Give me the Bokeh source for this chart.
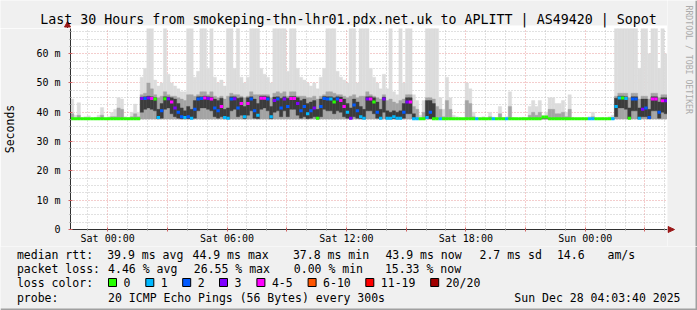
from bokeh.plotting import figure
from bokeh.models import ColumnDataSource, FixedTicker, Range1d
from bokeh.layouts import column, row
from bokeh.core.properties import value
from bokeh.embed import file_html
from bokeh.resources import INLINE

TITLE = "Last 30 Hours from smokeping-thn-lhr01.pdx.net.uk to APLITT | AS49420 | Sopot"

# time axis in hours since Fri 2025-12-26 00:00
start_hour = 22 + 8 / 60
bin_hours = 10 / 60
n_bins = 180

x_tick_hours = [24, 27, 30, 33, 36, 39, 42, 45, 48, 51]
x_tick_labels = ["Sat 00:00", "", "Sat 06:00", "", "Sat 12:00", "", "Sat 18:00", "", "Sun 00:00", ""]
x_minor_hours = [23, 25, 26, 28, 29, 31, 32, 34, 35, 37, 38, 40, 41, 43, 44, 46, 47, 49, 50, 52]
y_tick_ms = [0, 10, 20, 30, 40, 50, 60]
y_tick_labels = ["0", "10 m", "20 m", "30 m", "40 m", "50 m", "60 m"]
y_minor_ms = [2.5, 5, 7.5, 12.5, 15, 17.5, 22.5, 25, 27.5, 32.5, 35, 37.5, 42.5, 45, 47.5,
              52.5, 55, 57.5, 62.5, 65, 67.5]
y_top_ms = 68.6

loss_labels = ["0", "1", "2", "3", "4-5", "6-10", "11-19", "20/20"]
loss_colors = ["#26ff00", "#00b8ff", "#0059ff", "#7e00ff", "#ff00ff", "#ff5500", "#ff0000", "#a10000"]
loss_upper = [0, 1, 2, 3, 5, 10, 19, 20]

ping_floor = 37.7

median_ms = [
    37.8, 37.8, 37.8, 37.8, 37.8, 37.8, 37.8, 37.8, 37.8, 37.8,
    37.8, 37.8, 37.8, 37.8, 37.8, 37.8, 37.8, 37.8, 37.8, 37.8,
    37.8, 44.7, 44.7, 44.9, 44.7, 44.5, 38.2, 40.5, 44.6, 44.6,
    43.5, 41.5, 40.0, 38.5, 38.2, 38.5, 38.0, 41.0, 44.5, 44.7,
    44.9, 44.7, 44.5, 41.5, 40.5, 42.0, 38.2, 38.0, 44.5, 44.6,
    41.5, 43.0, 38.5, 43.0, 44.5, 40.5, 39.0, 44.8, 44.8, 44.5,
    38.5, 44.0, 44.5, 41.5, 44.5, 42.0, 44.7, 44.7, 43.0, 40.5,
    42.0, 39.5, 40.5, 41.5, 38.0, 42.0, 44.7, 44.5, 44.5, 43.5,
    44.5, 44.0, 42.0, 40.0, 38.0, 42.5, 40.5, 38.5, 38.0, 44.5,
    44.5, 43.5, 40.0, 38.0, 44.5, 38.0, 38.0, 38.5, 38.0, 38.0,
    40.0, 43.5, 43.5, 37.8, 37.8, 37.8, 37.8, 38.2, 40.0, 37.8,
    37.8, 37.8, 37.8, 37.8, 37.8, 37.8, 37.8, 37.8, 37.8, 37.8,
    37.8, 37.8, 37.8, 37.8, 37.8, 37.8, 37.8, 37.8, 37.8, 37.8,
    37.8, 37.8, 37.8, 37.8, 37.8, 37.8, 37.8, 37.8, 37.8, 37.8,
    37.8, 37.8, 38.4, 38.4, 37.8, 37.8, 37.8, 37.8, 37.8, 37.8,
    37.8, 37.8, 37.8, 37.8, 37.8, 37.8, 37.8, 37.8, 37.8, 37.8,
    37.8, 37.8, 37.8, 37.8, 42.0, 44.9, 44.9, 44.7, 38.0, 44.5,
    44.5, 38.0, 41.0, 41.5, 38.2, 44.5, 44.5, 40.0, 43.9, 43.9,
]

lost_pings = [
    0, 0, 0, 0, 0, 0, 0, 0, 0, 0,
    0, 0, 0, 0, 0, 0, 0, 0, 0, 0,
    0, 3, 2, 3, 4, 0, 1, 2, 0, 3,
    4, 3, 2, 2, 1, 2, 1, 2, 2, 2,
    4, 3, 4, 2, 2, 4, 1, 1, 2, 3,
    2, 4, 1, 4, 2, 2, 1, 4, 4, 2,
    1, 3, 2, 2, 3, 2, 4, 4, 3, 2,
    2, 1, 2, 3, 0, 2, 2, 2, 1, 0,
    2, 4, 4, 1, 3, 2, 2, 1, 1, 3,
    4, 0, 2, 1, 3, 1, 1, 1, 1, 1,
    2, 3, 4, 1, 1, 0, 0, 1, 2, 0,
    0, 1, 0, 0, 0, 0, 0, 0, 0, 0,
    0, 0, 1, 0, 0, 0, 0, 1, 0, 0,
    0, 1, 0, 0, 0, 0, 0, 0, 0, 0,
    0, 0, 0, 0, 0, 0, 0, 0, 0, 0,
    0, 0, 0, 0, 0, 0, 1, 1, 0, 0,
    0, 0, 0, 1, 1, 1, 0, 1, 0, 2,
    2, 1, 3, 2, 2, 4, 4, 2, 4, 3,
]

smoke_dark_lo = [
    37.8, 37.8, 37.8, 37.8, 37.8, 37.8, 37.8, 37.8, 37.8, 37.8,
    37.8, 37.8, 37.8, 37.8, 37.8, 37.8, 37.8, 37.8, 37.8, 37.8,
    37.8, 40.0, 41.0, 41.5, 41.0, 40.5, 37.8, 38.0, 41.0, 41.5,
    39.5, 38.5, 38.0, 37.8, 37.8, 37.8, 37.8, 38.0, 40.5, 41.5,
    41.5, 41.0, 40.5, 38.5, 38.0, 38.5, 37.8, 37.8, 40.5, 41.0,
    38.5, 39.0, 37.8, 39.0, 40.5, 38.0, 37.8, 41.0, 41.5, 40.5,
    37.8, 40.0, 40.5, 38.5, 40.5, 38.5, 41.0, 41.0, 39.0, 38.0,
    38.5, 37.8, 38.0, 38.5, 37.8, 38.5, 41.0, 40.5, 40.5, 39.5,
    40.5, 40.0, 38.5, 38.0, 37.8, 38.5, 38.0, 37.8, 37.8, 40.5,
    40.5, 39.5, 38.0, 37.8, 40.0, 37.8, 37.8, 37.8, 37.8, 37.8,
    38.0, 39.5, 39.5, 37.8, 37.8, 37.8, 37.8, 37.8, 37.8, 37.8,
    37.8, 37.8, 37.8, 37.8, 37.8, 37.8, 37.8, 37.8, 37.8, 37.8,
    37.8, 37.8, 37.8, 37.8, 37.8, 37.8, 37.8, 37.8, 37.8, 37.8,
    37.8, 37.8, 37.8, 37.8, 37.8, 37.8, 37.8, 37.8, 37.8, 37.8,
    37.8, 37.8, 37.8, 37.8, 37.8, 37.8, 37.8, 37.8, 37.8, 37.8,
    37.8, 37.8, 37.8, 37.8, 37.8, 37.8, 37.8, 37.8, 37.8, 37.8,
    37.8, 37.8, 37.8, 37.8, 38.5, 41.5, 41.5, 41.0, 37.8, 40.5,
    40.5, 37.8, 38.5, 38.5, 37.8, 40.5, 40.5, 38.0, 40.0, 39.5,
]

smoke_dark_hi = [
    37.8, 37.8, 37.8, 37.8, 37.8, 37.8, 37.8, 37.8, 37.8, 37.8,
    37.8, 37.8, 37.8, 37.8, 37.8, 37.8, 37.8, 37.8, 37.8, 37.8,
    37.8, 45.2, 45.3, 45.5, 45.3, 45.0, 41.0, 43.0, 45.3, 45.2,
    45.0, 44.5, 43.0, 41.5, 40.5, 42.0, 41.0, 44.0, 45.3, 45.3,
    45.5, 45.3, 45.2, 44.5, 44.0, 44.8, 41.0, 41.5, 45.3, 45.3,
    44.8, 45.0, 42.0, 45.0, 45.3, 44.5, 43.0, 45.5, 45.5, 45.3,
    42.0, 45.2, 45.3, 44.8, 45.3, 44.8, 45.4, 45.4, 45.0, 44.0,
    44.5, 43.0, 43.5, 44.0, 41.0, 44.5, 45.4, 45.3, 45.3, 45.0,
    45.3, 45.2, 44.5, 43.0, 41.5, 44.5, 43.5, 42.0, 41.0, 45.3,
    45.3, 45.0, 43.5, 41.0, 45.2, 40.5, 40.0, 40.5, 40.0, 40.5,
    43.0, 45.0, 45.0, 39.5, 37.8, 37.8, 37.8, 44.0, 44.0, 43.0,
    37.8, 37.8, 37.8, 37.8, 37.8, 37.8, 37.8, 37.8, 37.8, 37.8,
    37.8, 37.8, 37.8, 37.8, 37.8, 37.8, 37.8, 37.8, 37.8, 37.8,
    37.8, 37.8, 37.8, 37.8, 37.8, 37.8, 37.8, 37.8, 37.8, 37.8,
    37.8, 37.8, 37.8, 37.8, 37.8, 37.8, 37.8, 37.8, 37.8, 37.8,
    37.8, 37.8, 37.8, 37.8, 37.8, 37.8, 37.8, 37.8, 37.8, 37.8,
    37.8, 37.8, 37.8, 37.8, 44.8, 45.5, 45.5, 45.3, 41.5, 45.3,
    45.3, 41.5, 44.5, 44.5, 41.0, 45.3, 45.3, 43.5, 45.0, 45.0,
]

smoke_mid_hi = [
    39.5, 38.0, 39.0, 37.9, 38.0, 38.0, 37.9, 38.0, 38.2, 39.0,
    37.9, 38.0, 38.5, 38.5, 41.5, 41.0, 38.0, 37.9, 38.5, 39.5,
    38.5, 46.0, 46.5, 50.0, 48.0, 46.0, 45.0, 45.5, 47.0, 46.0,
    45.5, 45.5, 45.0, 44.5, 44.0, 46.0, 46.0, 45.5, 46.0, 47.0,
    47.0, 46.0, 47.0, 45.5, 45.0, 45.5, 44.5, 45.5, 46.5, 46.0,
    46.0, 45.5, 45.0, 45.5, 47.0, 46.0, 46.0, 46.0, 46.0, 46.0,
    45.0, 46.5, 47.0, 46.5, 47.0, 45.5, 47.0, 47.0, 45.5, 45.5,
    45.5, 45.0, 45.0, 45.5, 44.5, 45.5, 46.0, 47.0, 47.0, 46.5,
    46.0, 46.0, 45.5, 45.0, 45.5, 46.0, 45.0, 45.5, 45.5, 47.0,
    46.0, 45.5, 45.0, 44.5, 46.0, 44.0, 44.5, 43.5, 43.0, 44.0,
    44.5, 46.0, 46.0, 42.0, 41.0, 38.0, 40.0, 45.0, 45.0, 44.5,
    42.0, 41.0, 38.5, 44.0, 41.0, 38.0, 37.9, 37.9, 37.9, 44.0,
    43.0, 38.5, 38.0, 37.9, 38.0, 37.9, 38.5, 38.0, 37.9, 39.5,
    37.9, 38.0, 42.0, 37.9, 37.9, 37.9, 38.0, 37.9, 39.0, 40.0,
    39.0, 40.0, 38.5, 38.5, 41.0, 41.0, 39.5, 39.5, 40.0, 38.5,
    41.0, 38.0, 37.9, 37.9, 38.0, 37.9, 38.0, 38.5, 37.9, 37.9,
    38.0, 37.9, 38.0, 38.2, 45.5, 46.5, 46.5, 46.5, 45.0, 46.5,
    46.5, 44.5, 45.5, 45.5, 44.5, 46.5, 46.5, 45.0, 46.0, 46.0,
]

smoke_max = [
    44.5, 39.0, 43.3, 38.2, 38.5, 38.8, 38.0, 38.3, 39.0, 41.6,
    38.0, 38.5, 39.9, 41.0, 45.0, 44.5, 38.5, 38.2, 40.0, 42.8,
    40.0, 52.0, 55.0, 70.0, 70.0, 51.0, 49.0, 50.0, 70.0, 53.0,
    50.0, 49.0, 48.0, 47.0, 47.0, 70.0, 70.0, 52.0, 54.0, 70.0,
    70.0, 55.0, 70.0, 52.0, 50.0, 51.0, 49.0, 70.0, 70.0, 55.0,
    70.0, 52.0, 50.0, 52.0, 70.0, 70.0, 70.0, 55.0, 53.0, 52.0,
    50.0, 70.0, 70.0, 70.0, 70.0, 54.0, 70.0, 70.0, 55.0, 52.0,
    51.0, 50.0, 49.0, 50.0, 48.0, 52.0, 55.0, 70.0, 70.0, 70.0,
    54.0, 52.0, 51.0, 50.0, 70.0, 70.0, 50.0, 70.0, 70.0, 70.0,
    55.0, 52.0, 50.0, 48.0, 53.0, 48.0, 70.0, 47.0, 46.0, 70.0,
    50.0, 70.0, 70.0, 46.0, 44.0, 39.0, 44.0, 70.0, 70.0, 70.0,
    70.0, 45.0, 41.0, 52.0, 45.0, 39.0, 38.5, 38.2, 38.0, 50.0,
    48.0, 40.0, 38.3, 38.0, 38.5, 38.0, 40.0, 38.3, 38.0, 42.0,
    38.2, 38.5, 47.0, 38.2, 38.0, 38.0, 38.3, 38.0, 42.0, 44.0,
    42.0, 44.0, 38.8, 40.0, 45.0, 45.0, 43.0, 43.0, 44.0, 40.0,
    46.0, 38.3, 38.0, 38.0, 38.2, 38.0, 38.5, 40.0, 38.0, 38.0,
    38.2, 38.0, 38.5, 39.0, 70.0, 70.0, 70.0, 70.0, 70.0, 70.0,
    70.0, 55.0, 70.0, 70.0, 60.0, 70.0, 70.0, 55.0, 70.0, 60.0,
]

legend_rtt = [(16.4, "median rtt:"), (106.7, "39.9 ms avg"), (192.0, "44.9 ms max"),
              (292.4, "37.8 ms min"), (384.9, "43.9 ms now"), (479.0, "2.7 ms sd"),
              (556.4, "14.6"), (607.0, "am/s")]
legend_loss = [(16.4, "packet loss:"), (107.6, "4.46 % avg"), (193.3, "26.55 % max"),
               (293.3, "0.00 % min"), (384.4, "15.33 % now")]
legend_box_x = [108.0, 145.3, 182.2, 219.0, 256.4, 307.6, 365.3, 430.2]
probe_text = "20 ICMP Echo Pings (56 Bytes) every 300s"
stamp_text = "Sun Dec 28 04:03:40 2025"
watermark = "RRDTOOL / TOBI OETIKER"

FONT = "DejaVu Sans Mono"
BG = "#f0f0f0"
ARROW = "#9a1818"
AXIS = "#303030"


def loss_color(n):
    for upper, c in zip(loss_upper, loss_colors):
        if n <= upper:
            return c
    return loss_colors[-1]


def canvas_fig(w, h):
    # helper figure whose frame is its whole area, y measured downward in px
    return figure(width=w, height=h, x_range=Range1d(0, w), y_range=Range1d(h, 0),
                  title=None, output_backend="svg", toolbar_location=None,
                  x_axis_type=None, y_axis_type=None, min_border=0,
                  background_fill_color=BG, border_fill_color=BG, outline_line_color=None)


# ---------------- main chart ----------------
left = [start_hour + i * bin_hours for i in range(n_bins)]
right = [start_hour + (i + 1) * bin_hours for i in range(n_bins)]
src = ColumnDataSource(dict(
    left=left, right=right, floor=[ping_floor] * n_bins,
    median=median_ms, color=[loss_color(n) for n in lost_pings],
    dlo=smoke_dark_lo, dhi=smoke_dark_hi, mhi=smoke_mid_hi, pmax=smoke_max,
))

p = figure(width=667, height=218, title=None, output_backend="svg", toolbar_location=None,
           x_range=Range1d(start_hour, start_hour + n_bins * bin_hours),
           y_range=Range1d(0, y_top_ms),
           min_border_left=67, min_border_right=0, min_border_top=0, min_border_bottom=17,
           background_fill_color="#ffffff", border_fill_color=BG,
           outline_line_color=None)

p.xaxis.ticker = FixedTicker(ticks=x_tick_hours, minor_ticks=x_minor_hours)
p.yaxis.ticker = FixedTicker(ticks=y_tick_ms, minor_ticks=y_minor_ms)
for g in (p.xgrid[0], p.ygrid[0]):
    g.grid_line_color = "#e07878"
    g.grid_line_alpha = 0.75
    g.grid_line_dash = "1 2"
    g.minor_grid_line_color = "#b4b4b4"
    g.minor_grid_line_alpha = 0.8
    g.minor_grid_line_dash = "1 2"
p.ygrid[0].ticker = p.yaxis[0].ticker
p.xgrid[0].ticker = p.xaxis[0].ticker

p.quad(left="left", right="right", bottom="floor", top="pmax", source=src,
       fill_color="#dcdcdc", line_color="#dcdcdc", line_width=0.4)
p.quad(left="left", right="right", bottom="floor", top="mhi", source=src,
       fill_color="#a4a4a4", line_color="#a4a4a4", line_width=0.4)
p.quad(left="left", right="right", bottom="dlo", top="dhi", source=src,
       fill_color="#3c3c3c", line_color="#3c3c3c", line_width=0.4)
p.segment(x0="left", x1="right", y0="median", y1="median", source=src,
          line_color="color", line_width=3, line_cap="butt")

for ax in (p.xaxis[0], p.yaxis[0]):
    ax.axis_line_color = AXIS
    ax.major_tick_line_color = "#d06060"
    ax.major_tick_in = 2
    ax.major_tick_out = 2
    ax.minor_tick_line_color = "#909090"
    ax.minor_tick_in = 1
    ax.minor_tick_out = 1
    ax.major_label_text_font = FONT
    ax.major_label_text_font_size = "10px"
    ax.major_label_text_color = "#000000"

p.xaxis[0].major_label_overrides = {float(t): s for t, s in zip(x_tick_hours, x_tick_labels)}
p.yaxis[0].major_label_overrides = {float(t): s for t, s in zip(y_tick_ms, y_tick_labels)}
p.xaxis[0].major_label_standoff = 1
p.yaxis[0].major_label_standoff = 8
p.yaxis[0].axis_label = "Seconds"
p.yaxis[0].axis_label_text_font = FONT
p.yaxis[0].axis_label_text_font_size = "11.5px"
p.yaxis[0].axis_label_text_font_style = "normal"
p.yaxis[0].axis_label_text_color = "#000000"
p.yaxis[0].axis_label_standoff = 16

# ---------------- title strip (canvas y 0..28) ----------------
top = canvas_fig(667, 28)
top.quad(left=[67], right=[667], top=[25], bottom=[28], fill_color="#ffffff", line_color=None)
top.segment(x0=[67], y0=[24], x1=[67], y1=[28], line_color=AXIS, line_width=1)
top.patch(x=[64, 70, 67], y=[26.5, 26.5, 21], fill_color=ARROW, line_color=ARROW)
top.text(x=[348], y=[19.2], text=[TITLE], text_font=value(FONT), text_font_size=value("13.3px"),
         text_align="center", text_baseline="middle", text_color="#000000")

# ---------------- right strip (canvas x 667..697, y 0..246) ----------------
side = canvas_fig(30, 246)
side.segment(x0=[0], y0=[229], x1=[4], y1=[229], line_color=AXIS, line_width=1)
side.patch(x=[0.5, 0.5, 7], y=[226, 232, 229], fill_color=ARROW, line_color=ARROW)
side.text(x=[21], y=[5], text=[watermark], text_font=value(FONT), text_font_size=value("8.2px"),
          text_align="left", text_baseline="middle", text_color="#ababab", angle=-1.5707963)
side.quad(left=[28], right=[30], top=[0], bottom=[246], fill_color="#a0a0a0", line_color=None)

# ---------------- legend strip (canvas y 246..310) ----------------
leg = canvas_fig(697, 64)
Y0 = 246


def leg_text(items, yc, align="left"):
    leg.text(x=[it[0] for it in items], y=[yc - Y0] * len(items), text=[it[1] for it in items],
             text_font=value(FONT), text_font_size=value("11.5px"), text_align=align,
             text_baseline="middle", text_color="#000000")


leg_text(legend_rtt, 254)
leg_text(legend_loss, 268)
leg_text([(16.4, "loss color:")] + [(bx + 15, lab) for bx, lab in zip(legend_box_x, loss_labels)], 282)
leg.quad(left=legend_box_x, right=[bx + 8 for bx in legend_box_x],
         top=[278 - Y0] * len(legend_box_x), bottom=[286 - Y0] * len(legend_box_x),
         fill_color=loss_colors, line_color="#000000", line_width=1)
leg_text([(16.4, "probe:"), (107.6, probe_text)], 297)
leg_text([(680, stamp_text)], 297, align="right")
leg.quad(left=[0], right=[697], top=[62], bottom=[64], fill_color="#a0a0a0", line_color=None)
leg.quad(left=[695], right=[697], top=[0], bottom=[64], fill_color="#a0a0a0", line_color=None)

layout = column(row(column(top, row(p)), side), leg)
open("out.html", "w").write(file_html(layout, INLINE))
